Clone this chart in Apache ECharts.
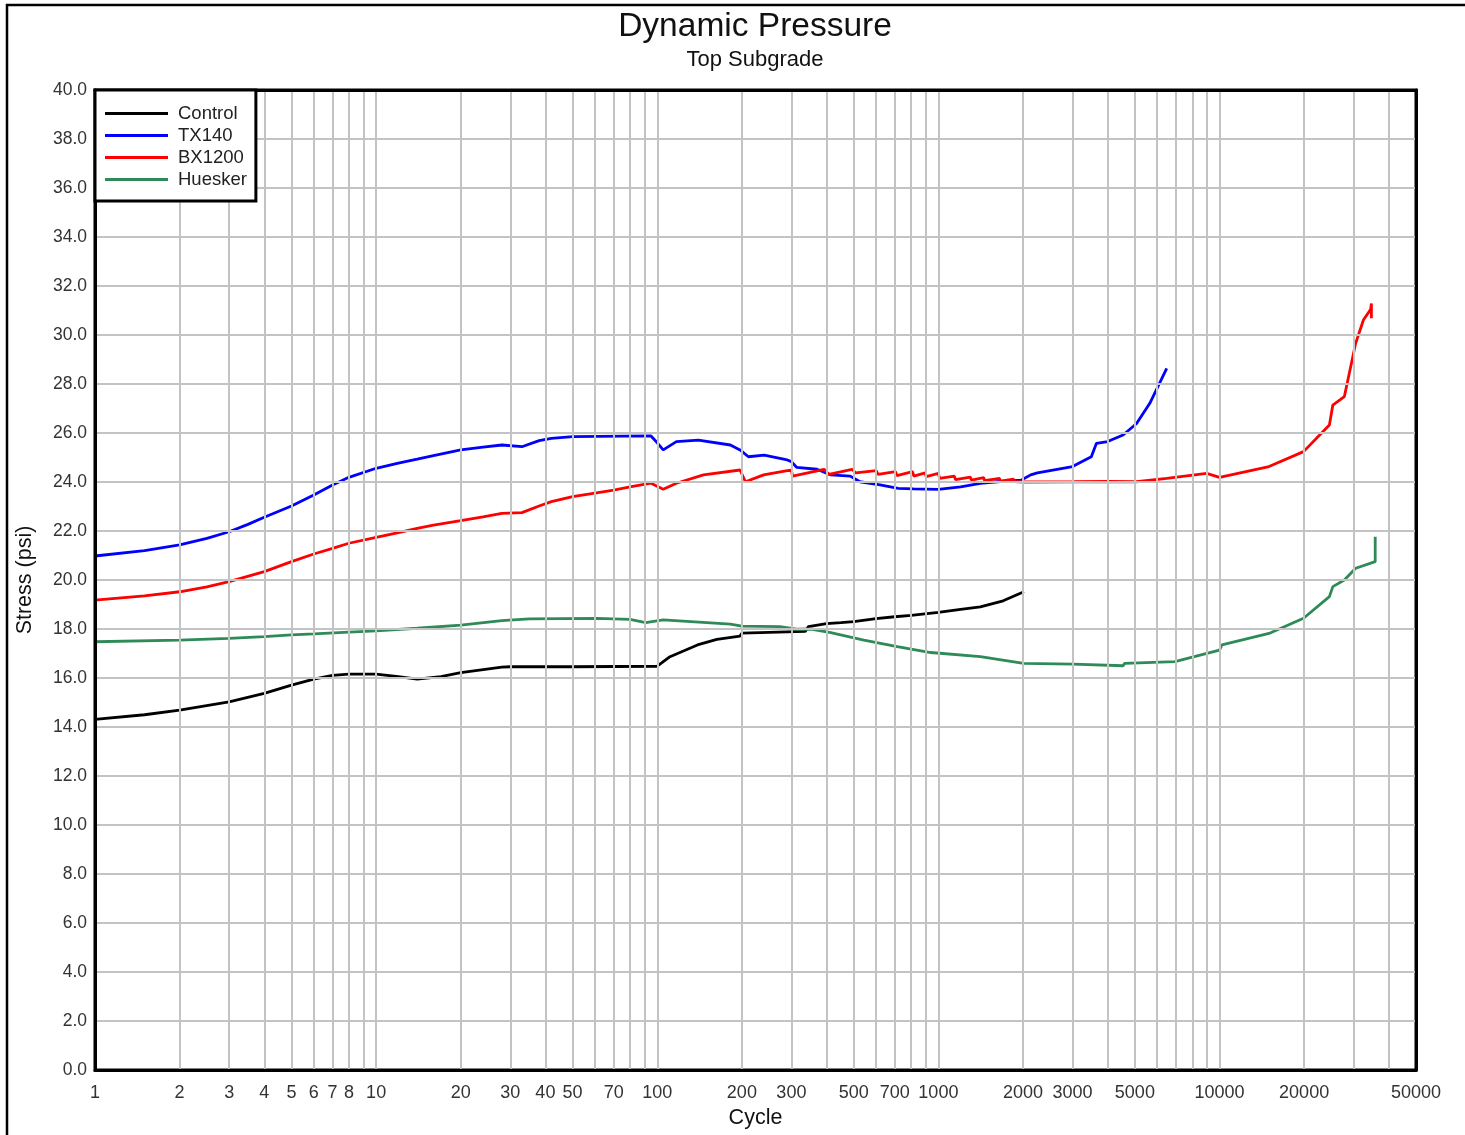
<!DOCTYPE html>
<html>
<head>
<meta charset="utf-8">
<script src="https://cdn.jsdelivr.net/npm/echarts@6/dist/echarts.min.js"></script>
<style>html,body{margin:0;padding:0;background:#fff;}#c{width:1465px;height:1135px;}</style>
</head>
<body>
<div id="c"></div>
<script>
// ---- Data ----
const xLabelValues = [1,2,3,4,5,6,7,8,10,20,30,40,50,70,100,200,300,500,700,1000,2000,3000,5000,10000,20000,50000];
const xGridValues = [1,2,3,4,5,6,7,8,9,10,20,30,40,50,60,70,80,90,100,200,300,400,500,600,700,800,900,1000,
  2000,3000,4000,5000,6000,7000,8000,9000,10000,20000,30000,40000,50000];

const controlCycles = [1,1.5,2,3,4,5,6,7,8,10,12,14,17,20,28,30,50,100,111,139,163,197,200,336,345,400,450,500,600,700,800,1000,1200,1410,1700,2015];
const controlValues = [14.31,14.5,14.69,15.03,15.37,15.71,15.95,16.11,16.16,16.16,16.06,15.95,16.06,16.22,16.44,16.46,16.46,16.48,16.87,17.35,17.58,17.71,17.83,17.9,18.1,18.22,18.26,18.3,18.42,18.5,18.56,18.68,18.8,18.9,19.15,19.52];

const tx140Cycles = [1,1.5,2,2.5,3,3.5,4,5,6,7,8,10,12,14,16,20,24,28,33,38,42,50,95,100,105,117,140,182,197,211,240,290,300,313,370,414,486,526,620,720,816,1000,1200,1410,1620,1975,2130,2250,3000,3500,3650,4000,4540,5070,5650,6490];
const tx140Values = [20.98,21.2,21.43,21.7,21.97,22.27,22.56,23.02,23.47,23.88,24.19,24.56,24.77,24.93,25.08,25.31,25.42,25.51,25.44,25.69,25.78,25.85,25.88,25.6,25.31,25.65,25.71,25.51,25.31,25.03,25.1,24.9,24.83,24.6,24.52,24.29,24.24,24.01,23.88,23.74,23.72,23.7,23.8,23.94,24.01,24.08,24.29,24.37,24.63,25.03,25.58,25.65,25.92,26.39,27.21,28.64];

const bx1200Cycles = [1,1.5,2,2.5,3,4,5,6,7,8,10,12,14,16,20,24,28,33,38,42,50,60,70,80,95,105,117,146,197,206,239,290,300,303,392,408,493,508,601,610,704,712,809,818,898,905,1000,1010,1140,1150,1300,1310,1450,1460,1650,1660,1850,1860,2010,3000,4000,5070,6490,9000,10000,15000,19900,24600,25300,27800,30500,32500,34500,34700,34700];
const bx1200Values = [19.18,19.35,19.52,19.72,19.93,20.34,20.75,21.06,21.29,21.5,21.74,21.93,22.11,22.24,22.42,22.58,22.72,22.75,23.02,23.2,23.4,23.55,23.67,23.8,23.95,23.7,23.95,24.29,24.49,24.01,24.29,24.46,24.48,24.24,24.52,24.31,24.52,24.37,24.46,24.31,24.42,24.26,24.42,24.24,24.37,24.22,24.35,24.15,24.24,24.1,24.2,24.08,24.18,24.06,24.15,24.04,24.12,24.02,24.0,24.01,24.02,24.01,24.15,24.35,24.19,24.63,25.24,26.33,27.14,27.48,29.66,30.61,31.05,31.29,30.68];

const hueskerCycles = [1,2,3,4,5,6,8,10,14,20,28,35,61,80,91,105,182,200,273,313,352,414,543,714,939,1410,2010,3010,4540,4600,6940,10000,10200,15000,19900,24600,25300,27800,30500,35800,35800];
const hueskerValues = [17.48,17.55,17.62,17.69,17.76,17.8,17.87,17.92,18.03,18.16,18.34,18.41,18.43,18.39,18.26,18.37,18.2,18.12,18.1,17.99,18.0,17.85,17.55,17.28,17.04,16.87,16.6,16.57,16.5,16.6,16.67,17.14,17.35,17.82,18.44,19.32,19.73,20.0,20.48,20.75,21.77];

const seriesNames = ['Control','TX140','BX1200','Huesker'];
const seriesColors = ['#000000','#0000ff','#ff0000','#2e8b57'];

function pairs(xs, ys){ return xs.map((x,i)=>[x, ys[i]]); }
const allData = [
  pairs(controlCycles, controlValues),
  pairs(tx140Cycles, tx140Values),
  pairs(bx1200Cycles, bx1200Values),
  pairs(hueskerCycles, hueskerValues)
];

const FONT = '"Liberation Sans", Arial, Helvetica, sans-serif';
const chart = echarts.init(document.getElementById('c'), null, {renderer:'canvas'});

const frameAxis = {
  show: true,
  axisLine: {show: true, onZero: false, lineStyle: {color: '#000', width: 3}},
  axisTick: {show: false},
  axisLabel: {show: false},
  splitLine: {show: false}
};

const option = {
  backgroundColor: '#fff',
  animation: false,
  title: {
    text: 'Dynamic Pressure',
    subtext: 'Top Subgrade',
    left: 750,
    textAlign: 'center',
    top: 4,
    itemGap: 3,
    textStyle: {fontFamily: FONT, fontSize: 33.5, fontWeight: 'normal', color: '#111', lineHeight: 36},
    subtextStyle: {fontFamily: FONT, fontSize: 22, color: '#111', lineHeight: 24}
  },
  graphic: [{
    type: 'rect', silent: true, z: -1,
    shape: {x: 7, y: 5, width: 1500, height: 1200},
    style: {fill: 'none', stroke: '#000', lineWidth: 2.5}
  }],
  legend: {
    orient: 'vertical',
    left: 95,
    top: 90,
    data: seriesNames,
    icon: 'rect',
    itemWidth: 63,
    itemHeight: 3,
    itemGap: 3,
    padding: [14, 9, 12, 10],
    backgroundColor: '#fff',
    borderColor: '#000',
    borderWidth: 3,
    borderRadius: 0,
    z: 10,
    textStyle: {fontFamily: FONT, fontSize: 18.5, color: '#222', padding: [0,0,0,5]}
  },
  grid: {
    left: 95, right: 49, top: 90, bottom: 65,
    show: true, borderColor: '#000', borderWidth: 3, backgroundColor: '#fff'
  },
  xAxis: [{
    type: 'log',
    logBase: 10,
    min: 1,
    max: 50000,
    name: 'Cycle',
    nameLocation: 'middle',
    nameGap: 34,
    nameTextStyle: {fontFamily: FONT, fontSize: 21.5, color: '#111'},
    axisLine: {show: true, onZero: false, lineStyle: {color: '#000', width: 3}},
    axisTick: {show: false, customValues: xGridValues},
    axisLabel: {customValues: xLabelValues, fontFamily: FONT, fontSize: 18, color: '#333', margin: 14,
      formatter: v => String(Math.round(v))},
    splitLine: {show: true, lineStyle: {color: '#c3c3c3', width: 2}},
    minorTick: {show: false},
    minorSplitLine: {show: false},
    z: 5
  }, Object.assign({type: 'log', logBase: 10, min: 1, max: 50000, position: 'top', z: 6}, frameAxis)],
  yAxis: [{
    type: 'value',
    min: 0, max: 40, interval: 2,
    name: 'Stress (psi)',
    nameLocation: 'middle',
    nameRotate: 90,
    nameGap: 59,
    nameTextStyle: {fontFamily: FONT, fontSize: 21.5, color: '#111'},
    axisLine: {show: true, onZero: false, lineStyle: {color: '#000', width: 3}},
    axisTick: {show: false},
    axisLabel: {fontFamily: FONT, fontSize: 17.5, color: '#333', margin: 8,
      formatter: v => v.toFixed(1)},
    splitLine: {show: true, lineStyle: {color: '#c3c3c3', width: 2}},
    z: 5
  }, Object.assign({type: 'value', min: 0, max: 40, interval: 2, position: 'right', z: 6}, frameAxis)],
  series: seriesNames.map((n, i) => ({
    name: n,
    type: 'line',
    xAxisIndex: 0,
    yAxisIndex: 0,
    data: allData[i],
    showSymbol: false,
    symbol: 'none',
    smooth: false,
    color: seriesColors[i],
    lineStyle: {color: seriesColors[i], width: 2.8},
    z: 3
  }))
};
chart.setOption(option);
</script>
</body>
</html>
